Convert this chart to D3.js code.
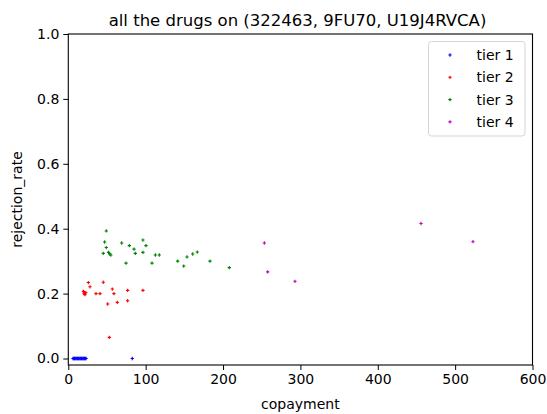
<!DOCTYPE html>
<html>
<head>
<meta charset="utf-8">
<script src="https://cdn.jsdelivr.net/npm/d3@7"></script>
<style>
  body { margin: 0; background: #fff; }
  text { font-family: "DejaVu Sans", sans-serif; fill: #000; }
</style>
</head>
<body>
<div id="chart"></div>
<script>
const width = 547;
const height = 414;
const margin = {top: 34, right: 14.5, bottom: 49, left: 68.3};

const title = "all the drugs on (322463, 9FU70, U19J4RVCA)";
const tiers = ["tier 1", "tier 2", "tier 3", "tier 4"];
const colors = ["#0000ff", "#ff0000", "#008000", "#bf00bf"];
const xTicks = [0, 100, 200, 300, 400, 500, 600];
const yTicks = [0, 0.2, 0.4, 0.6, 0.8, 1.0];

// copayment, rejection_rate per tier
const tier1X = [6, 7, 8, 9, 10, 11, 12, 13, 14, 15, 16, 17, 18, 19, 20, 21, 22, 23, 82.7];
const tier1Y = [0, 0, 0, 0, 0, 0, 0, 0, 0, 0, 0, 0, 0, 0, 0, 0, 0, 0, 0];

const tier2X = [25.9, 28, 19.5, 20.5, 21.5, 22.5, 35.8, 41, 45.2, 56.9, 59, 50.9, 63.3, 76.7, 76.7, 96.5, 53];
const tier2Y = [0.234, 0.221, 0.207, 0.2, 0.197, 0.203, 0.2, 0.2, 0.235, 0.214, 0.2, 0.168, 0.173, 0.21, 0.178, 0.21, 0.065];

const tier3X = [49.1, 47, 49.1, 45.2, 52, 53.5, 55, 69, 74.6, 78.9, 84.9, 86.6, 96.5, 96.5, 100.4, 108.2,
  112.5, 117.6, 141.4, 149.2, 153.4, 160.8, 166.7, 183.1, 208.1];
const tier3Y = [0.393, 0.359, 0.342, 0.324, 0.327, 0.322, 0.319, 0.356, 0.294, 0.348, 0.337, 0.324, 0.365, 0.327, 0.348, 0.294,
  0.319, 0.319, 0.3, 0.285, 0.313, 0.322, 0.328, 0.3, 0.28];

const tier4X = [253.4, 257.7, 293, 455.9, 523.1];
const tier4Y = [0.356, 0.267, 0.238, 0.416, 0.36];

const seriesX = [tier1X, tier2X, tier3X, tier4X];
const seriesY = [tier1Y, tier2Y, tier3Y, tier4Y];

const x = d3.scaleLinear()
  .domain([0, 600])
  .range([margin.left, width - margin.right]);

const y = d3.scaleLinear()
  .domain([-0.02, 1.0])
  .range([height - margin.bottom, margin.top]);

const plus = d3.symbol().type(d3.symbolCross).size(6);

const svg = d3.select("#chart")
  .append("svg")
  .attr("width", width)
  .attr("height", height);

// points
seriesX.forEach((xs, i) => {
  svg.append("g")
    .selectAll("path")
    .data(xs.map((v, j) => ({x: v, y: seriesY[i][j]})))
    .join("path")
    .attr("transform", d => `translate(${x(d.x)},${y(d.y)})`)
    .attr("d", plus)
    .attr("fill", colors[i]);
});

// axes
const xAxis = g => g
  .attr("transform", `translate(0,${height - margin.bottom})`)
  .call(d3.axisBottom(x).tickValues(xTicks).tickFormat(d3.format("d")).tickSize(5).tickSizeOuter(0).tickPadding(4));

const yAxis = g => g
  .attr("transform", `translate(${margin.left},0)`)
  .call(d3.axisLeft(y).tickValues(yTicks).tickFormat(d3.format(".1f")).tickSize(5).tickSizeOuter(0).tickPadding(4));

svg.append("g").call(xAxis);
svg.append("g").call(yAxis);

svg.selectAll(".tick text")
  .attr("font-size", 14)
  .attr("font-family", "DejaVu Sans")
  .attr("fill", "#000");
svg.selectAll(".tick line").attr("stroke", "#000").attr("stroke-width", 1);
svg.selectAll(".domain").remove();

// frame
svg.append("rect")
  .attr("x", margin.left)
  .attr("y", margin.top)
  .attr("width", width - margin.left - margin.right)
  .attr("height", height - margin.top - margin.bottom)
  .attr("fill", "none")
  .attr("stroke", "#000")
  .attr("stroke-width", 1.1);

// labels
svg.append("text")
  .attr("x", 297.5)
  .attr("y", 25.5)
  .attr("text-anchor", "middle")
  .attr("font-size", 16.5)
  .text(title);

svg.append("text")
  .attr("x", (margin.left + width - margin.right) / 2)
  .attr("y", 409)
  .attr("text-anchor", "middle")
  .attr("font-size", 14)
  .text("copayment");

svg.append("text")
  .attr("transform", `translate(22,${(margin.top + height - margin.bottom) / 2}) rotate(-90)`)
  .attr("text-anchor", "middle")
  .attr("font-size", 14)
  .text("rejection_rate");

// legend
const legend = svg.append("g").attr("transform", "translate(428.5,41.5)");

legend.append("rect")
  .attr("width", 96.5)
  .attr("height", 94.5)
  .attr("rx", 3)
  .attr("fill", "#fff")
  .attr("fill-opacity", 0.8)
  .attr("stroke", "#d5d5d5");

tiers.forEach((t, i) => {
  const row = legend.append("g").attr("transform", `translate(0,${13.5 + i * 22.3})`);
  row.append("path")
    .attr("transform", "translate(21.5,0)")
    .attr("d", plus)
    .attr("fill", colors[i]);
  row.append("text")
    .attr("x", 48)
    .attr("dy", "0.35em")
    .attr("font-size", 14)
    .text(t);
});
</script>
</body>
</html>
